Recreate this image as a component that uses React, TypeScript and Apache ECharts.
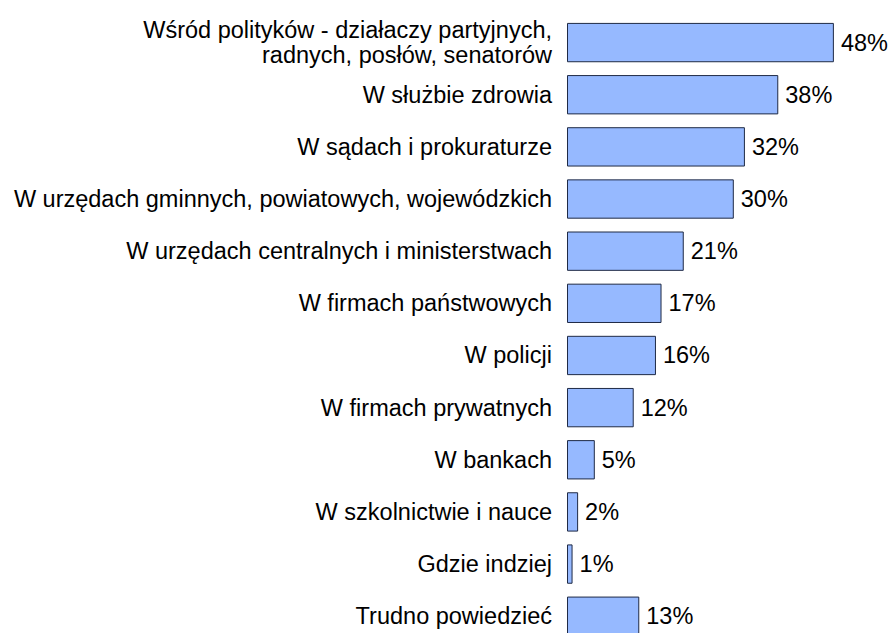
import React, { useEffect, useRef } from "react";
import * as echarts from "echarts";

const categories = [
  "Wśród polityków - działaczy partyjnych,\nradnych, posłów, senatorów",
  "W służbie zdrowia",
  "W sądach i prokuraturze",
  "W urzędach gminnych, powiatowych, wojewódzkich",
  "W urzędach centralnych i ministerstwach",
  "W firmach państwowych",
  "W policji",
  "W firmach prywatnych",
  "W bankach",
  "W szkolnictwie i nauce",
  "Gdzie indziej",
  "Trudno powiedzieć",
];
const values = [48, 38, 32, 30, 21, 17, 16, 12, 5, 2, 1, 13];

export default function App() {
  const ref = useRef<HTMLDivElement>(null);
  useEffect(() => {
    if (!ref.current) return;
    const chart = echarts.init(ref.current, null, { renderer: "svg" });
    const font = "Liberation Sans, Arial, sans-serif";
    chart.setOption({
      animation: false,
      backgroundColor: "#ffffff",
      grid: {
        left: 567,
        top: 16.5,
        width: 278,
        height: 625.8,
        containLabel: false,
        outerBoundsMode: "none",
      },
      xAxis: {
        type: "value",
        min: 0,
        max: 50,
        show: false,
      },
      yAxis: {
        type: "category",
        inverse: true,
        data: categories,
        axisLine: { show: false },
        axisTick: { show: false },
        splitLine: { show: false },
        axisLabel: {
          margin: 15,
          color: "#000000",
          fontSize: 23.5,
          fontFamily: font,
          lineHeight: 25,
          align: "right",
        },
      },
      series: [
        {
          type: "bar",
          data: values,
          barCategoryGap: "24.6%",
          itemStyle: {
            color: "#96b9ff",
            borderColor: "#1f2a45",
            borderWidth: 1,
          },
          label: {
            show: true,
            position: "right",
            distance: 7,
            formatter: "{c}%",
            color: "#000000",
            fontSize: 23.5,
            fontFamily: font,
          },
        },
      ],
    });
    return () => chart.dispose();
  }, []);
  return (
    <div
      ref={ref}
      style={{ position: "fixed", left: 0, top: 0, width: 893, height: 633 }}
    />
  );
}
